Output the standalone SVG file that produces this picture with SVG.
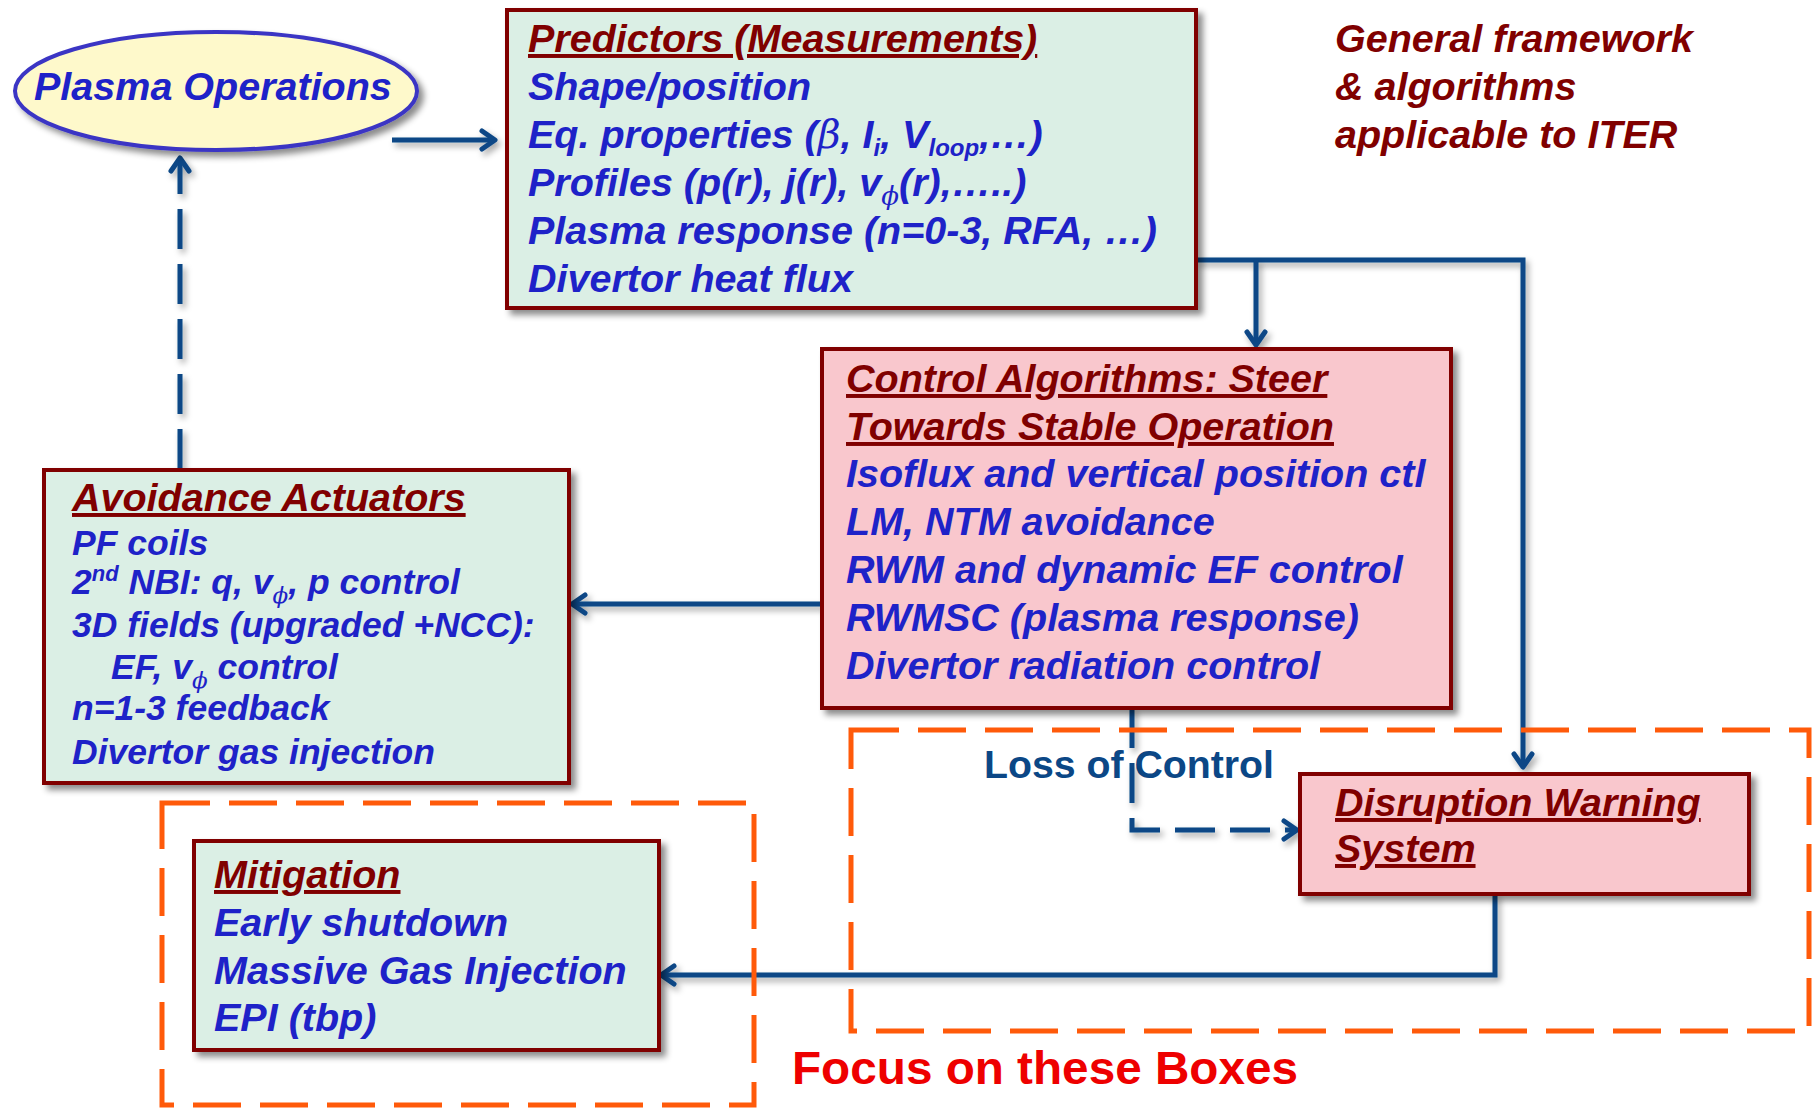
<svg xmlns="http://www.w3.org/2000/svg" width="1820" height="1109" viewBox="0 0 1820 1109">
<defs>
<filter id="sh" x="-10%" y="-10%" width="130%" height="130%">
<feDropShadow dx="5" dy="5" stdDeviation="3" flood-color="#000" flood-opacity="0.45"/>
</filter>
<filter id="lsh" filterUnits="userSpaceOnUse" x="0" y="0" width="1820" height="1109">
<feDropShadow dx="3" dy="4" stdDeviation="3" flood-color="#000" flood-opacity="0.35"/>
</filter>
<marker id="arr" markerUnits="userSpaceOnUse" markerWidth="22" markerHeight="22" refX="14" refY="9" orient="auto" overflow="visible">
<path d="M1,0 L14,9 L1,18" fill="none" stroke="#0B4786" stroke-width="5" stroke-linecap="round" stroke-linejoin="round"/>
</marker>
</defs>
<style>
.box{stroke:#800000;stroke-width:4;filter:url(#sh)}
.mint{fill:#DBEFE5}
.pink{fill:#F9C7CD}
.t{font-family:"Liberation Sans",Arial,sans-serif;font-weight:bold;font-style:italic;font-size:39.5px;fill:#1E22C8}
.s{font-size:35.5px}
.h{fill:#800000;text-decoration:underline}
.r{fill:#800000}
.con{fill:none;stroke:#0B4786;stroke-width:5;filter:url(#lsh)}
.dash{stroke-dasharray:40 15}
.orange{fill:none;stroke:#FF5A0A;stroke-width:5;stroke-dasharray:48 19}
</style>
<rect width="1820" height="1109" fill="#fff"/>

<g id="loss-label">
<text x="984" y="778" font-family="Liberation Sans,Arial,sans-serif" font-weight="bold" font-size="38" fill="#0B4786" textLength="290" lengthAdjust="spacingAndGlyphs">Loss of Control</text>
</g>

<g id="connectors">
<path class="con" d="M392,140 H495" marker-end="url(#arr)"/>
<path class="con" d="M1196,260 H1523 V767" marker-end="url(#arr)"/>
<path class="con" d="M1256,260 V345" marker-end="url(#arr)"/>
<path class="con" d="M822,604 H572" marker-end="url(#arr)"/>
<path class="con dash" d="M180,469 V158" marker-end="url(#arr)"/>
<path class="con dash" d="M1132,708 V830 H1297" marker-end="url(#arr)"/>
<path class="con" d="M1495,894 V975 H661" marker-end="url(#arr)"/>
</g>

<g id="focus-frames">
<rect class="orange" x="851" y="730" width="958" height="301"/>
<rect class="orange" x="162" y="803" width="592" height="302"/>
</g>

<g id="plasma-operations">
<ellipse cx="216" cy="91" rx="201" ry="59" fill="#FEF9CB" stroke="#3B35C4" stroke-width="4" filter="url(#sh)"/>
<text class="t" x="34" y="100">Plasma Operations</text>
</g>

<g id="predictors">
<rect class="box mint" x="507" y="10" width="689" height="298"/>
<text class="t h" x="528" y="52">Predictors (Measurements)</text>
<text class="t" x="528" y="100">Shape/position</text>
<text class="t" x="528" y="148">Eq. properties (<tspan font-family="DejaVu Serif,serif" font-weight="normal">β</tspan>, I<tspan font-size="24" dy="8">i</tspan><tspan dy="-8">, V</tspan><tspan font-size="24" dy="8">loop</tspan><tspan dy="-8">,…)</tspan></text>
<text class="t" x="528" y="196">Profiles (p(r), j(r), v<tspan font-size="26" dy="9" font-family="DejaVu Serif,serif" font-weight="normal">ϕ</tspan><tspan dy="-9">(r),…..)</tspan></text>
<text class="t" x="528" y="244">Plasma response (n=0-3, RFA, …)</text>
<text class="t" x="528" y="292">Divertor heat flux</text>
</g>

<g id="framework-note">
<text class="t r" x="1335" y="52">General framework</text>
<text class="t r" x="1335" y="100">&amp; algorithms</text>
<text class="t r" x="1335" y="148">applicable to ITER</text>
</g>

<g id="control-algorithms">
<rect class="box pink" x="822" y="349" width="629" height="359"/>
<text class="t h" x="846" y="392">Control Algorithms: Steer</text>
<text class="t h" x="846" y="440">Towards Stable Operation</text>
<text class="t" x="846" y="487">Isoflux and vertical position ctl</text>
<text class="t" x="846" y="535">LM, NTM avoidance</text>
<text class="t" x="846" y="583">RWM and dynamic EF control</text>
<text class="t" x="846" y="631">RWMSC (plasma response)</text>
<text class="t" x="846" y="679">Divertor radiation control</text>
</g>

<g id="avoidance-actuators">
<rect class="box mint" x="44" y="470" width="525" height="313"/>
<text class="t h" x="72" y="511">Avoidance Actuators</text>
<text class="t s" x="72" y="555">PF coils</text>
<text class="t s" x="72" y="594">2<tspan font-size="22" dy="-13">nd</tspan><tspan dy="13"> NBI: q, v</tspan><tspan font-size="23" dy="9" font-family="DejaVu Serif,serif" font-weight="normal">ϕ</tspan><tspan dy="-9">, p control</tspan></text>
<text class="t s" x="72" y="637">3D fields (upgraded +NCC):</text>
<text class="t s" x="111" y="679">EF, v<tspan font-size="23" dy="9" font-family="DejaVu Serif,serif" font-weight="normal">ϕ</tspan><tspan dy="-9"> control</tspan></text>
<text class="t s" x="72" y="720">n=1-3 feedback</text>
<text class="t s" x="72" y="764">Divertor gas injection</text>
</g>

<g id="disruption-warning">
<rect class="box pink" x="1300" y="774" width="449" height="120"/>
<text class="t h" x="1335" y="816">Disruption Warning</text>
<text class="t h" x="1335" y="862">System</text>
</g>

<g id="mitigation">
<rect class="box mint" x="194" y="841" width="465" height="209"/>
<text class="t h" x="214" y="888">Mitigation</text>
<text class="t" x="214" y="936">Early shutdown</text>
<text class="t" x="214" y="984">Massive Gas Injection</text>
<text class="t" x="214" y="1031">EPI (tbp)</text>
</g>

<g id="focus-label">
<text x="792" y="1084" font-family="Liberation Sans,Arial,sans-serif" font-weight="bold" font-size="46" fill="#EE0000" textLength="506" lengthAdjust="spacingAndGlyphs">Focus on these Boxes</text>
</g>
</svg>
